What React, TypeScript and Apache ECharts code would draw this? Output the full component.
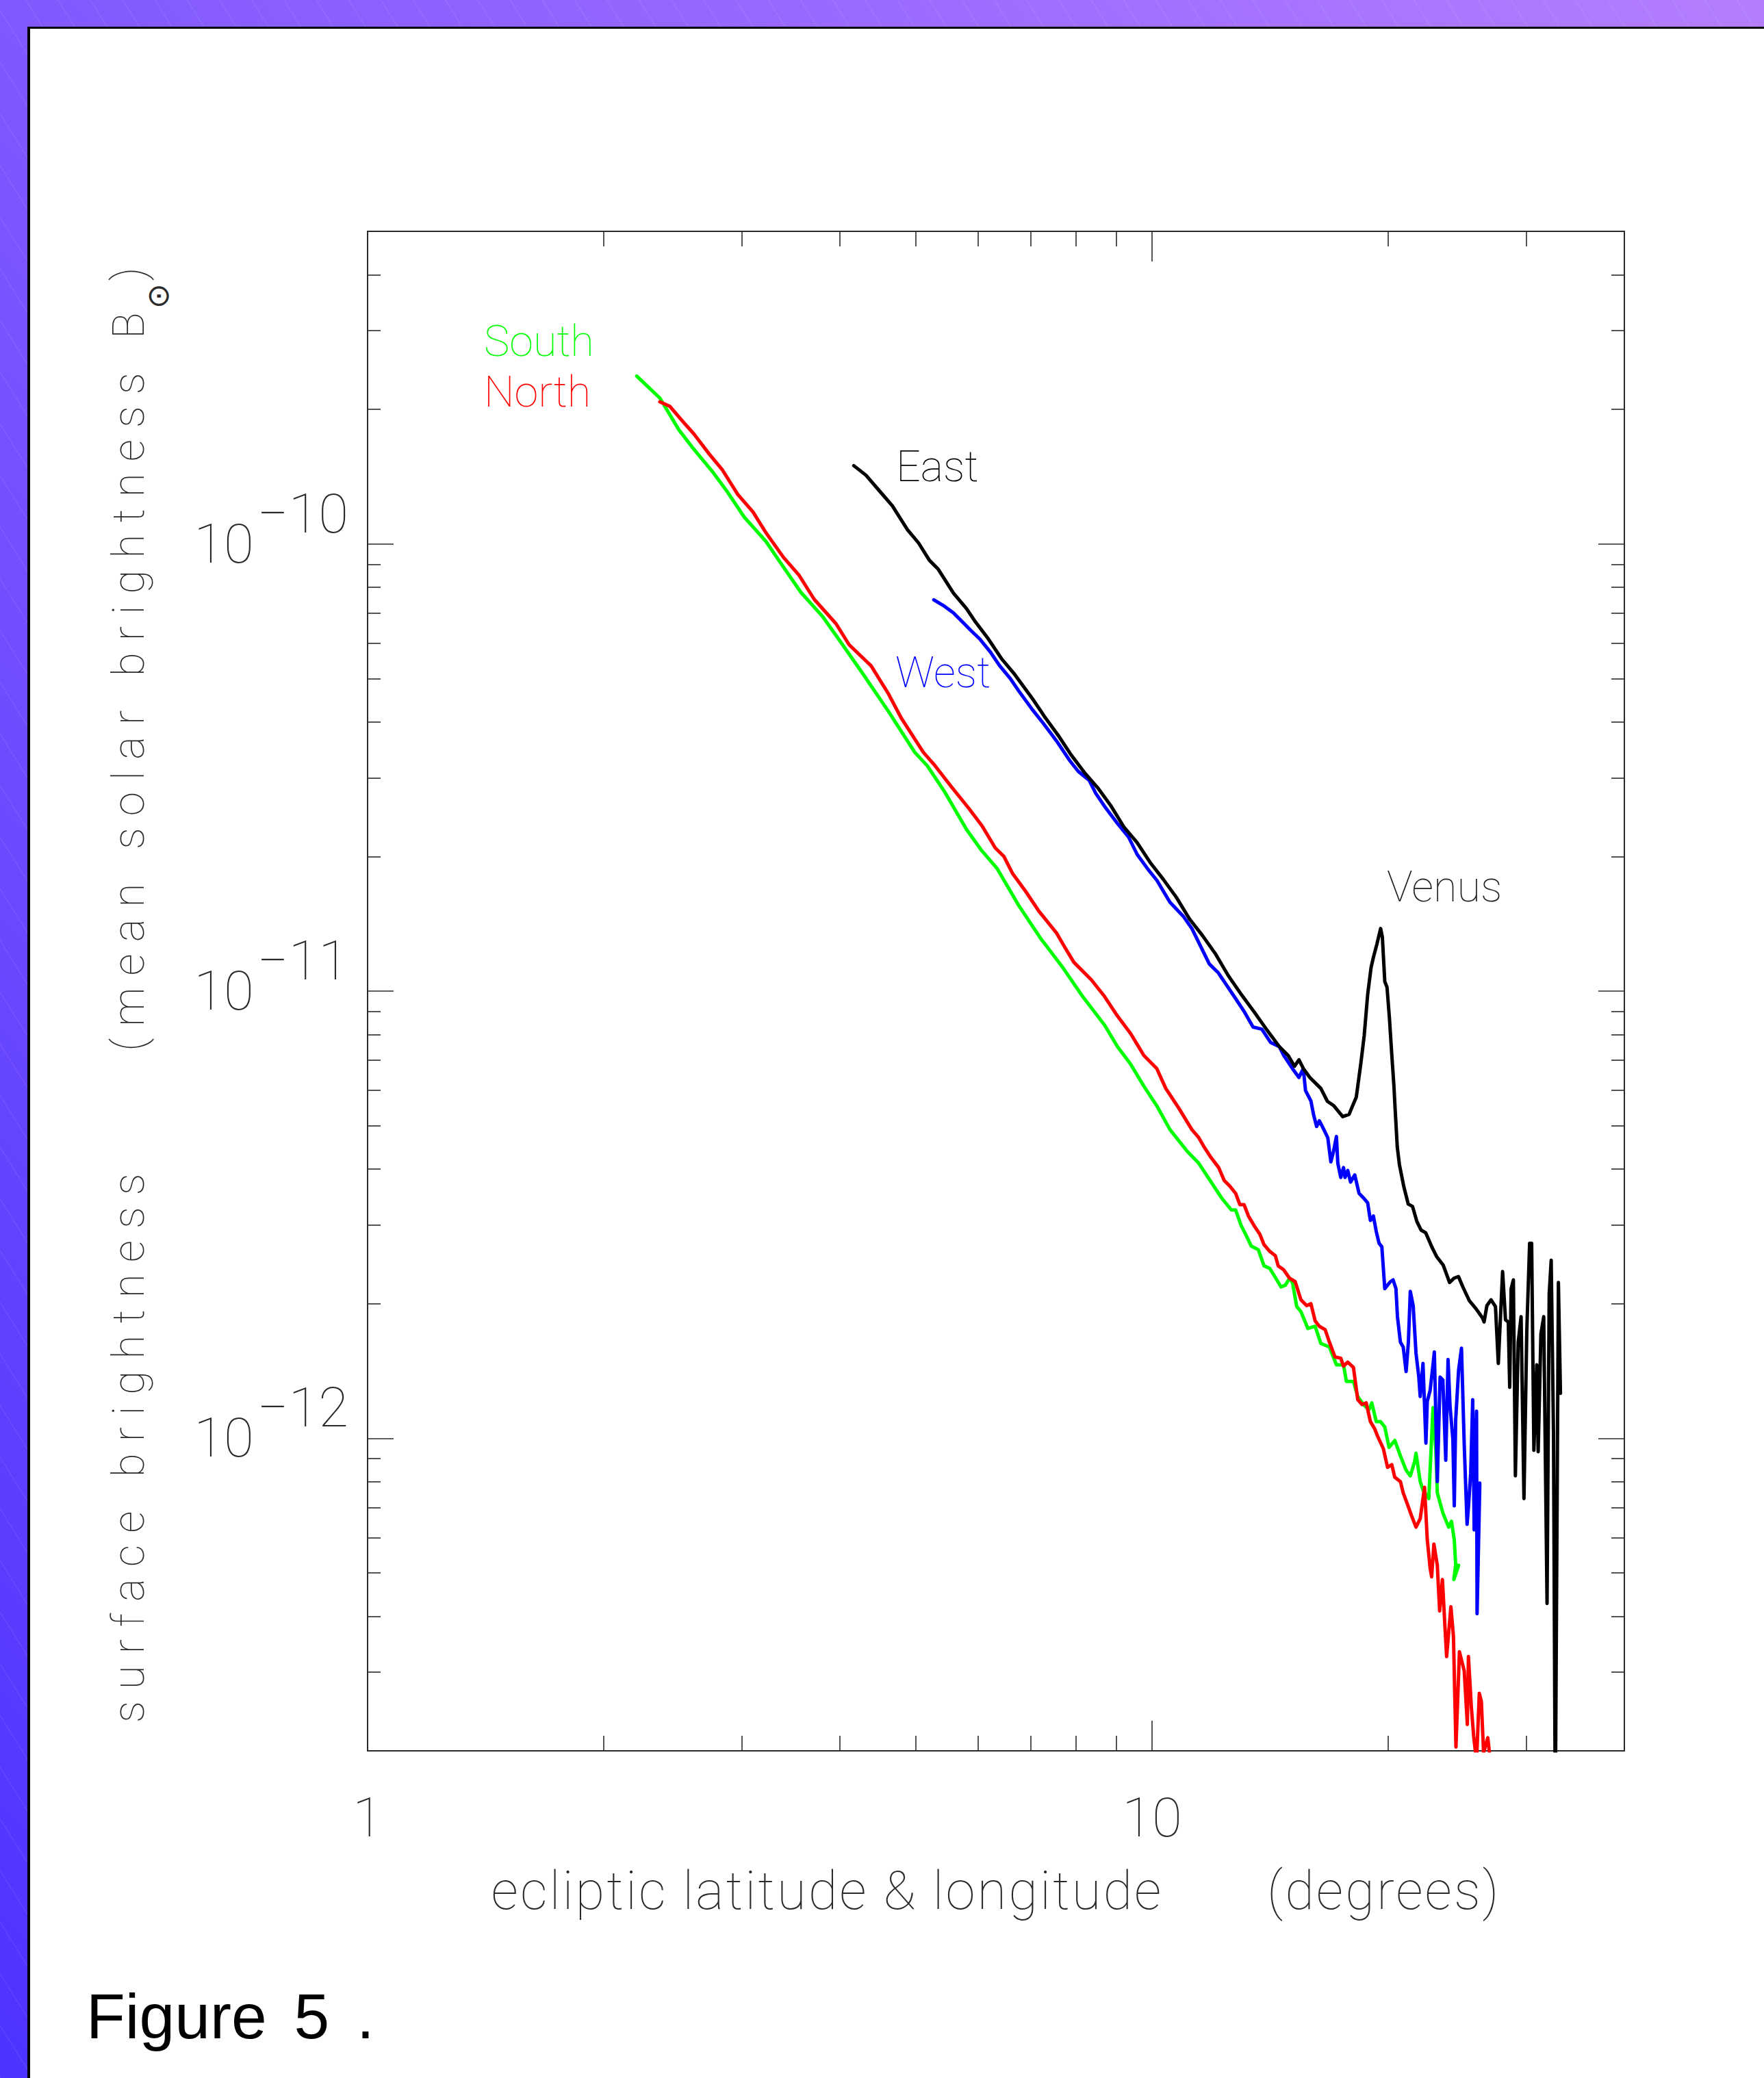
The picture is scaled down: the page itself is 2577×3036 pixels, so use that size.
import React, { useEffect, useRef } from 'react';
import * as echarts from 'echarts';

// ---- data (ecliptic angle in degrees, surface brightness in units of mean solar brightness) ----
const SOUTH: [number, number][] = [
  [2.203, 2.374e-10], [2.358, 2.12e-10], [2.493, 1.8e-10], [2.59, 1.65e-10], [2.761, 1.44e-10],
  [2.87, 1.313e-10], [3.021, 1.148e-10], [3.221, 1.012e-10], [3.348, 9.16e-11], [3.568, 7.79e-11],
  [3.805, 6.87e-11], [4.005, 6.05e-11], [4.271, 5.15e-11], [4.613, 4.22e-11], [4.983, 3.42e-11],
  [5.17, 3.19e-11], [5.44, 2.79e-11],
  [5.8, 2.3e-11], [6.067, 2.06e-11], [6.346, 1.88e-11], [6.768, 1.55e-11], [7.214, 1.31e-11],
  [7.692, 1.13e-11], [8.155, 9.73e-12], [8.697, 8.4e-12], [9.036, 7.51e-12], [9.393, 6.86e-12],
  [9.761, 6.13e-12], [10.14, 5.54e-12], [10.54, 4.9e-12], [11.09, 4.38e-12], [11.47, 4.12e-12],
  [11.86, 3.77e-12], [12.26, 3.45e-12], [12.46, 3.33e-12], [12.62, 3.24e-12], [12.78, 3.24e-12],
  [12.99, 2.99e-12], [13.21, 2.82e-12], [13.38, 2.69e-12], [13.66, 2.64e-12], [13.89, 2.43e-12],
  [14.12, 2.4e-12], [14.36, 2.29e-12], [14.6, 2.18e-12], [14.79, 2.2e-12], [14.97, 2.28e-12],
  [15.1, 2.23e-12], [15.29, 1.97e-12], [15.48, 1.92e-12], [15.8, 1.76e-12], [16.14, 1.78e-12],
  [16.41, 1.63e-12], [16.83, 1.6e-12], [17.18, 1.46e-12], [17.54, 1.46e-12], [17.69, 1.34e-12],
  [18.06, 1.34e-12], [18.29, 1.24e-12], [18.59, 1.19e-12], [18.91, 1.16e-12], [19.06, 1.2e-12],
  [19.31, 1.09e-12], [19.55, 1.09e-12], [19.8, 1.06e-12], [20.05, 9.54e-13], [20.39, 9.89e-13],
  [20.73, 9.13e-13], [21.08, 8.48e-13], [21.34, 8.24e-13], [21.61, 8.86e-13], [21.7, 9.26e-13],
  [21.97, 8.0e-13], [22.15, 7.66e-13], [22.53, 7.33e-13], [22.81, 1.17e-12], [23.0, 9.4e-13],
  [23.1, 7.55e-13], [23.48, 6.81e-13], [23.88, 6.33e-13], [24.08, 6.52e-13], [24.28, 5.93e-13],
  [24.38, 5.2e-13], [24.25, 4.83e-13], [24.59, 5.2e-13],
];

const NORTH: [number, number][] = [
  [2.358, 2.079e-10], [2.429, 2.03e-10], [2.524, 1.876e-10], [2.607, 1.76e-10], [2.727, 1.587e-10],
  [2.834, 1.463e-10], [2.964, 1.29e-10], [3.099, 1.179e-10], [3.221, 1.058e-10], [3.39, 9.33e-11],
  [3.545, 8.53e-11], [3.709, 7.52e-11], [3.955, 6.63e-11], [4.11, 5.95e-11], [4.383, 5.34e-11],
  [4.613, 4.62e-11], [4.793, 4.07e-11], [5.11, 3.42e-11], [5.274, 3.21e-11],
  [5.551, 2.86e-11], [5.842, 2.56e-11], [6.072, 2.34e-11], [6.311, 2.09e-11], [6.474, 2.0e-11],
  [6.643, 1.83e-11], [6.902, 1.67e-11], [7.172, 1.51e-11], [7.551, 1.35e-11], [7.748, 1.25e-11],
  [7.949, 1.16e-11], [8.367, 1.06e-11], [8.697, 9.73e-12], [9.036, 8.79e-12], [9.393, 8.03e-12],
  [9.761, 7.18e-12], [10.14, 6.71e-12], [10.41, 6.06e-12], [10.81, 5.48e-12], [11.24, 4.9e-12],
  [11.47, 4.7e-12], [11.66, 4.47e-12], [11.86, 4.27e-12], [12.16, 4.03e-12], [12.36, 3.77e-12],
  [12.57, 3.66e-12], [12.78, 3.53e-12], [12.94, 3.33e-12], [13.1, 3.33e-12], [13.27, 3.14e-12],
  [13.49, 2.99e-12], [13.72, 2.86e-12], [13.89, 2.71e-12], [14.12, 2.62e-12], [14.36, 2.56e-12],
  [14.48, 2.43e-12], [14.72, 2.38e-12], [14.97, 2.28e-12], [15.22, 2.24e-12], [15.48, 2.04e-12],
  [15.74, 1.98e-12], [15.94, 2.0e-12], [16.14, 1.83e-12], [16.34, 1.78e-12], [16.62, 1.75e-12],
  [16.83, 1.64e-12], [17.11, 1.52e-12], [17.4, 1.51e-12], [17.54, 1.45e-12], [17.76, 1.48e-12],
  [18.06, 1.44e-12], [18.29, 1.22e-12], [18.52, 1.19e-12], [18.75, 1.2e-12], [18.98, 1.09e-12],
  [19.22, 1.05e-12], [19.39, 1.01e-12], [19.72, 9.47e-13], [19.96, 8.61e-13], [20.21, 8.73e-13],
  [20.39, 8.18e-13], [20.73, 8.0e-13], [20.9, 7.55e-13], [21.16, 7.12e-13], [21.42, 6.71e-13],
  [21.7, 6.33e-13], [21.97, 6.61e-13], [22.25, 7.77e-13], [22.43, 5.93e-13], [22.62, 5.12e-13],
  [22.72, 4.9e-13], [22.87, 5.8e-13], [23.1, 5.2e-13], [23.26, 4.11e-13], [23.45, 4.83e-13],
  [23.64, 3.71e-13], [23.74, 3.25e-13], [24.04, 4.2e-13], [24.22, 3.61e-13], [24.4, 2.04e-13],
  [24.65, 3.33e-13], [25.0, 3.02e-13], [25.23, 2.29e-13], [25.31, 3.25e-13], [25.53, 2.5e-13],
  [25.7, 2.16e-13], [25.92, 1.89e-13], [26.13, 2.69e-13], [26.29, 2.58e-13], [26.46, 1.98e-13],
  [26.79, 2.14e-13], [27.02, 1.87e-13],
];

const EAST: [number, number][] = [
  [4.167, 1.496e-10], [4.319, 1.424e-10], [4.489, 1.316e-10], [4.665, 1.217e-10], [4.879, 1.075e-10],
  [5.039, 1.005e-10], [5.202, 9.19e-11], [5.338, 8.78e-11], [5.583, 7.76e-11], [5.8, 7.17e-11],
  [5.952, 6.7e-11], [6.185, 6.13e-11], [6.427, 5.54e-11], [6.68, 5.11e-11], [7.031, 4.52e-11],
  [7.307, 4.09e-11], [7.593, 3.73e-11], [7.89, 3.37e-11], [8.201, 3.08e-11], [8.524, 2.85e-11],
  [8.857, 2.6e-11], [9.204, 2.33e-11], [9.568, 2.15e-11], [9.942, 1.94e-11], [10.33, 1.78e-11],
  [10.74, 1.62e-11], [11.16, 1.45e-11], [11.6, 1.33e-11], [12.05, 1.21e-11], [12.52, 1.08e-11],
  [13.02, 9.78e-12], [13.52, 8.94e-12], [14.02, 8.17e-12], [14.53, 7.51e-12], [14.91, 7.18e-12],
  [15.19, 6.79e-12], [15.39, 7.02e-12], [15.59, 6.71e-12], [15.89, 6.41e-12], [16.41, 6.06e-12],
  [16.73, 5.67e-12], [17.05, 5.54e-12], [17.5, 5.24e-12], [17.83, 5.3e-12], [17.97, 5.48e-12],
  [18.21, 5.79e-12], [18.46, 6.91e-12], [18.64, 7.96e-12], [18.83, 9.83e-12], [19.02, 1.13e-11],
  [19.15, 1.19e-11], [19.34, 1.27e-11], [19.56, 1.38e-11], [19.66, 1.32e-11], [19.8, 1.05e-11],
  [19.93, 1.02e-11], [20.07, 8.72e-12], [20.2, 7.31e-12], [20.34, 6.12e-12], [20.41, 5.45e-12],
  [20.54, 4.48e-12], [20.67, 4.09e-12], [20.94, 3.65e-12], [21.21, 3.34e-12], [21.48, 3.3e-12],
  [21.76, 3.05e-12], [22.03, 2.92e-12], [22.33, 2.88e-12], [22.75, 2.67e-12], [23.05, 2.55e-12],
  [23.5, 2.44e-12], [23.95, 2.23e-12], [24.26, 2.28e-12], [24.58, 2.3e-12], [24.9, 2.18e-12],
  [25.38, 2.03e-12], [25.87, 1.95e-12], [26.37, 1.86e-12], [26.5, 1.82e-12], [26.72, 1.98e-12],
  [27.05, 2.04e-12], [27.4, 1.97e-12], [27.63, 1.47e-12], [27.98, 2.36e-12], [28.22, 1.84e-12],
  [28.45, 1.82e-12], [28.57, 1.3e-12], [28.69, 2.16e-12], [28.88, 2.26e-12], [29.05, 8.24e-13],
  [29.29, 1.64e-12], [29.54, 1.87e-12], [29.79, 7.33e-13], [30.04, 1.74e-12], [30.29, 2.73e-12],
  [30.47, 2.73e-12], [30.67, 9.4e-13], [30.93, 1.46e-12], [31.06, 9.33e-13], [31.31, 1.71e-12],
  [31.57, 1.87e-12], [31.88, 4.27e-13], [32.08, 2.1e-12], [32.27, 2.5e-12], [32.49, 1.02e-12],
  [32.66, 1.44e-13], [32.96, 2.23e-12], [33.16, 1.26e-12],
];

const WEST: [number, number][] = [
  [5.27, 7.5e-11], [5.44, 7.25e-11], [5.583, 7.01e-11], [5.728, 6.7e-11], [5.877, 6.4e-11],
  [6.03, 6.13e-11], [6.226, 5.72e-11], [6.388, 5.35e-11], [6.596, 5.0e-11], [6.768, 4.68e-11],
  [7.031, 4.27e-11], [7.266, 3.97e-11], [7.551, 3.63e-11], [7.85, 3.28e-11], [8.053, 3.1e-11],
  [8.315, 2.96e-11], [8.475, 2.77e-11], [8.697, 2.59e-11], [9.036, 2.37e-11], [9.333, 2.21e-11],
  [9.574, 2.02e-11], [9.886, 1.87e-11], [10.14, 1.77e-11], [10.54, 1.58e-11], [10.96, 1.47e-11],
  [11.24, 1.38e-11], [11.53, 1.26e-11], [11.83, 1.15e-11], [12.14, 1.1e-11], [12.45, 1.03e-11],
  [12.78, 9.62e-12], [13.11, 8.99e-12], [13.45, 8.31e-12], [13.8, 8.22e-12], [14.16, 7.68e-12],
  [14.53, 7.51e-12], [14.72, 7.18e-12], [15.1, 6.71e-12], [15.39, 6.41e-12], [15.59, 6.71e-12],
  [15.69, 5.99e-12], [15.94, 5.68e-12], [16.07, 5.28e-12], [16.21, 4.98e-12], [16.34, 5.13e-12],
  [16.55, 4.91e-12], [16.75, 4.7e-12], [16.9, 4.15e-12], [17.03, 4.37e-12], [17.18, 4.73e-12],
  [17.25, 4.12e-12], [17.4, 3.83e-12], [17.54, 4.03e-12], [17.62, 3.83e-12], [17.76, 3.97e-12],
  [17.91, 3.74e-12], [18.13, 3.88e-12], [18.36, 3.53e-12], [18.59, 3.45e-12], [18.83, 3.36e-12],
  [18.98, 3.07e-12], [19.15, 3.14e-12], [19.31, 2.9e-12], [19.47, 2.73e-12], [19.63, 2.68e-12],
  [19.8, 2.16e-12], [19.96, 2.2e-12], [20.13, 2.24e-12], [20.29, 2.26e-12], [20.46, 2.16e-12],
  [20.55, 1.87e-12], [20.73, 1.64e-12], [20.9, 1.6e-12], [21.08, 1.41e-12], [21.22, 1.64e-12],
  [21.34, 2.13e-12], [21.52, 1.98e-12], [21.7, 1.55e-12], [21.88, 1.37e-12], [21.97, 1.24e-12],
  [22.15, 1.47e-12], [22.34, 9.75e-13], [22.43, 1.21e-12], [22.62, 1.28e-12], [22.81, 1.46e-12],
  [22.9, 1.56e-12], [23.1, 8.0e-13], [23.29, 1.37e-12], [23.48, 1.35e-12], [23.68, 8.93e-13],
  [23.84, 1.5e-12], [23.98, 1.18e-12], [24.18, 9.96e-13], [24.28, 7.06e-13], [24.38, 1.1e-12],
  [24.59, 1.42e-12], [24.8, 1.59e-12], [25.0, 9.67e-13], [25.21, 6.42e-13], [25.31, 7.01e-13],
  [25.48, 8.36e-13], [25.63, 1.22e-12], [25.74, 6.24e-13], [25.92, 1.15e-12], [25.96, 4.05e-13],
  [26.17, 7.94e-13],
];

// ---- axes ----
const X_RANGE = [1, 40];
const Y_RANGE = [2e-13, 5e-10];
const X_MAJOR = [1, 10];
const X_LABELS = ['1', '10'];
const X_MINOR = [2, 3, 4, 5, 6, 7, 8, 9, 20, 30];
const Y_MAJOR = [1e-12, 1e-11, 1e-10];
const Y_BASE = '10';
const Y_EXPONENTS = ['\u221212', '\u221211', '\u221210'];
const Y_MINOR = [
  3e-13, 4e-13, 5e-13, 6e-13, 7e-13, 8e-13, 9e-13,
  2e-12, 3e-12, 4e-12, 5e-12, 6e-12, 7e-12, 8e-12, 9e-12,
  2e-11, 3e-11, 4e-11, 5e-11, 6e-11, 7e-11, 8e-11, 9e-11,
  2e-10, 3e-10, 4e-10,
];

const NB = '\u00a0';
const X_TITLE = 'ecliptic latitude & longitude' + NB.repeat(7) + '(degrees)';
const Y_TITLE_MAIN = 'surface brightness' + NB.repeat(5) + '(mean solar brightness B';
const Y_TITLE_SUB = '\u2299';
const Y_TITLE_END = ')';
const CAPTION = 'Figure 5 .';

// letter / word spacing tweaks applied to the rendered SVG texts (Hershey-like spacing)
const SPACING: { prefix: string; attr: string; value: number }[] = [
  { prefix: 'surface', attr: 'letter-spacing', value: 17 },
  { prefix: 'ecliptic', attr: 'letter-spacing', value: 3 },
  { prefix: 'Figure', attr: 'word-spacing', value: 14 },
];

const AX = '#2a2a2a';
const THIN = 'Roboto';
const W = 2577;
const H = 3036;

const findIdx = (arr: number[], v: number) => arr.findIndex((m) => Math.abs(v / m - 1) < 1e-6);

function App() {
  const ref = useRef<HTMLDivElement>(null);

  useEffect(() => {
    const el = ref.current;
    if (!el) return;
    const chart = echarts.init(el, null, { renderer: 'svg', width: W, height: H });

    const logX = (extra: any) => ({
      type: 'log', logBase: 10, min: X_RANGE[0], max: X_RANGE[1], gridIndex: 0,
      splitLine: { show: false }, minorTick: { show: false }, axisPointer: { show: false },
      ...extra,
    });
    const logY = (extra: any) => ({
      type: 'log', logBase: 10, min: Y_RANGE[0], max: Y_RANGE[1], gridIndex: 0,
      splitLine: { show: false }, minorTick: { show: false }, axisPointer: { show: false },
      ...extra,
    });
    const line = { show: true, lineStyle: { color: AX, width: 2 } };
    const noLine = { show: false };
    const tick = (vals: number[], len: number) => ({
      show: true, inside: true, length: len, customValues: vals,
      lineStyle: { color: AX, width: 1.6 },
    });
    const noLabel = { show: false };

    const series = [
      { name: 'South', data: SOUTH, color: '#00ff00' },
      { name: 'North', data: NORTH, color: '#ff0000' },
      { name: 'West', data: WEST, color: '#0000ff' },
      { name: 'East', data: EAST, color: '#000000' },
    ].map((s) => ({
      type: 'line', name: s.name, data: s.data, xAxisIndex: 0, yAxisIndex: 0,
      showSymbol: false, symbol: 'none', clip: true, silent: true, animation: false,
      lineStyle: { color: s.color, width: 5, join: 'round', cap: 'round' },
      itemStyle: { color: s.color },
      emphasis: { disabled: true },
    }));

    const label = (text: string, x: number, y: number, color: string) => ({
      type: 'text', x, y, silent: true,
      style: {
        text, fill: color, fontSize: 63, fontFamily: THIN, fontWeight: 100,
        textAlign: 'left', textVerticalAlign: 'middle', align: 'left', verticalAlign: 'middle',
      },
    });

    chart.setOption({
      animation: false,
      backgroundColor: 'transparent',
      grid: { left: 537, right: W - 2373, top: 338, bottom: H - 2558, containLabel: false, outerBoundsMode: 'none' },
      xAxis: [
        logX({
          position: 'bottom', axisLine: line, axisTick: tick(X_MAJOR, 44),
          axisLabel: {
            show: true, customValues: X_MAJOR, margin: 58,
            formatter: (v: number) => X_LABELS[findIdx(X_MAJOR, v)] ?? '',
            fontSize: 80, lineHeight: 80, fontFamily: THIN, fontWeight: 100, color: AX,
          },
          name: X_TITLE, nameLocation: 'middle', nameGap: 159,
          nameTextStyle: { fontSize: 78, lineHeight: 90, fontFamily: THIN, fontWeight: 100, color: AX },
        }),
        logX({ position: 'bottom', axisLine: noLine, axisTick: tick(X_MINOR, 22), axisLabel: noLabel }),
        logX({ position: 'top', axisLine: line, axisTick: tick(X_MAJOR, 44), axisLabel: noLabel }),
        logX({ position: 'top', axisLine: noLine, axisTick: tick(X_MINOR, 22), axisLabel: noLabel }),
      ],
      yAxis: [
        logY({
          position: 'left', axisLine: line, axisTick: tick(Y_MAJOR, 38),
          axisLabel: {
            show: true, customValues: Y_MAJOR, margin: 28,
            formatter: (v: number) => {
              const i = findIdx(Y_MAJOR, v);
              return i < 0 ? '' : `{b|${Y_BASE}}{g|${NB}}{s|${Y_EXPONENTS[i]}}`;
            },
            rich: {
              b: { fontSize: 80, fontFamily: THIN, fontWeight: 100, color: AX, height: 80, lineHeight: 168, verticalAlign: 'middle' },
              g: { fontSize: 20, fontFamily: THIN, color: AX, height: 20, lineHeight: 20 },
              s: { fontSize: 80, fontFamily: THIN, fontWeight: 100, color: AX, height: 80, lineHeight: 80, verticalAlign: 'top' },
            },
          },
        }),
        logY({ position: 'left', axisLine: noLine, axisTick: tick(Y_MINOR, 19), axisLabel: noLabel }),
        logY({ position: 'right', axisLine: line, axisTick: tick(Y_MAJOR, 38), axisLabel: noLabel }),
        logY({ position: 'right', axisLine: noLine, axisTick: tick(Y_MINOR, 19), axisLabel: noLabel }),
      ],
      series,
      graphic: [
        label('South', 707, 498, '#00ff00'),
        label('North', 707, 572, '#ff0000'),
        label('East', 1309, 681, '#000000'),
        label('West', 1308, 982, '#0000ff'),
        label('Venus', 2026, 1295, '#222222'),
        {
          type: 'text', x: 188, y: 2517, rotation: Math.PI / 2, silent: true,
          style: {
            text: Y_TITLE_MAIN, fill: AX, fontSize: 64, fontFamily: THIN, fontWeight: 100,
            textAlign: 'left', textVerticalAlign: 'middle', align: 'left', verticalAlign: 'middle',
          },
        },
        {
          type: 'text', x: 230, y: 432, rotation: Math.PI / 2, silent: true,
          style: {
            text: Y_TITLE_SUB, fill: AX, fontSize: 44, fontFamily: 'DejaVu Sans', fontWeight: 200,
            textAlign: 'center', textVerticalAlign: 'middle', align: 'center', verticalAlign: 'middle',
          },
        },
        {
          type: 'text', x: 188, y: 410, rotation: Math.PI / 2, silent: true,
          style: {
            text: Y_TITLE_END, fill: AX, fontSize: 64, fontFamily: THIN, fontWeight: 100,
            textAlign: 'left', textVerticalAlign: 'middle', align: 'left', verticalAlign: 'middle',
          },
        },
        {
          type: 'text', x: 126, y: 2946, silent: true,
          style: {
            text: CAPTION, fill: '#000000', fontSize: 93, fontFamily: 'Liberation Sans',
            textAlign: 'left', textVerticalAlign: 'middle', align: 'left', verticalAlign: 'middle',
          },
        },
      ],
    });

    const applySpacing = () => {
      el.querySelectorAll('text').forEach((t) => {
        const s = t.textContent || '';
        SPACING.forEach((sp) => {
          if (s.startsWith(sp.prefix)) t.setAttribute(sp.attr, String(sp.value));
        });
      });
    };
    applySpacing();
    chart.on('finished', applySpacing);

    return () => {
      chart.dispose();
    };
  }, []);

  return (
    <div
      style={{
        position: 'fixed', left: 0, top: 0, width: W, height: H, overflow: 'hidden',
        backgroundImage:
          'repeating-linear-gradient(58deg, rgba(255,255,255,0.07) 0px, rgba(255,255,255,0.07) 1.5px, transparent 1.5px, transparent 40px), linear-gradient(to top right, #4d33ff, #b47eff)',
      }}
    >
      <div
        style={{
          position: 'absolute', left: 40, top: 39, right: 0, bottom: 0, background: '#ffffff',
          borderTop: '3px solid #000', borderLeft: '4px solid #000', boxSizing: 'border-box',
        }}
      />
      <div ref={ref} style={{ position: 'absolute', left: 0, top: 0, width: W, height: H }} />
    </div>
  );
}

export default App;
